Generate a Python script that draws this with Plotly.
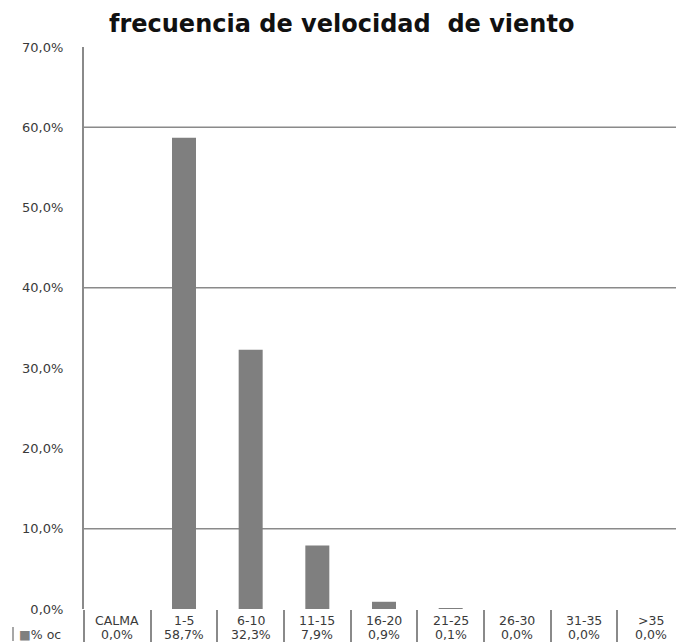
import plotly.graph_objects as go

# ---- data ----
categories = ["CALMA", "1-5", "6-10", "11-15", "16-20", "21-25", "26-30", "31-35", ">35"]
values = [0.0, 58.7, 32.3, 7.9, 0.9, 0.1, 0.0, 0.0, 0.0]
series_name = "% oc"
title_text = "frecuencia de velocidad  de viento"
y_ticks = [0, 10, 20, 30, 40, 50, 60, 70]
grid_at = [10, 40, 60]

W, H = 676, 644
ML, MR, MT, MB = 84, 0, 47, 35
PW = W - ML - MR
PH = H - MT - MB

BAR = "#7f7f7f"
AX = "#8a8a8a"
TXT = "#3a3a3a"
FONT = "DejaVu Sans"

def pct(v):
    return f"{v:.1f}".replace(".", ",") + "%"

fig = go.Figure()
fig.add_trace(go.Bar(x=categories, y=values, name=series_name,
                     marker=dict(color=BAR, line=dict(width=0)),
                     showlegend=False))

annotations = []
for c, v in zip(categories, values):
    annotations.append(dict(x=c, xref="x", y=0, yref="paper", yanchor="top",
                            yshift=-2, text=c, showarrow=False,
                            font=dict(family=FONT, size=12.5, color=TXT)))
    annotations.append(dict(x=c, xref="x", y=0, yref="paper", yanchor="top",
                            yshift=-16, text=pct(v), showarrow=False,
                            font=dict(family=FONT, size=12.5, color=TXT)))

# legend key of the data table
annotations.append(dict(x=(17 - ML) / PW, xref="paper", xanchor="left",
                        y=0, yref="paper", yanchor="top", yshift=-16,
                        text=f'<span style="color:{BAR}">■</span>{series_name}',
                        showarrow=False,
                        font=dict(family=FONT, size=12.5, color=TXT)))

annotations.append(dict(x=0.5, xref="paper", y=(H - 24 - MB) / PH,
                        yref="paper", yanchor="middle",
                        text=f"<b>{title_text}</b>", showarrow=False,
                        xshift=(341 - (ML + PW / 2)),
                        font=dict(family=FONT, size=24, color="#111111")))

shapes = []
for g in grid_at:
    shapes.append(dict(type="line", xref="paper", yref="y", x0=0, x1=1,
                       y0=g, y1=g, layer="below",
                       line=dict(color=AX, width=1.5)))
shapes.append(dict(type="line", xref="paper", yref="paper",
                   x0=(13 - ML) / PW, x1=(13 - ML) / PW,
                   y0=-(627 - (H - MB)) / PH,
                   y1=-(641 - (H - MB)) / PH,
                   line=dict(color=AX, width=1.5)))

fig.update_layout(
    width=W, height=H, autosize=False,
    margin=dict(l=ML, r=MR, t=MT, b=MB),
    paper_bgcolor="white", plot_bgcolor="white",
    separators=",.",
    bargap=0.64,
    showlegend=False,
    font=dict(family=FONT, color=TXT),
    xaxis=dict(type="category", range=[-0.5, 8.38], showgrid=False,
               showline=False, zeroline=False, showticklabels=False,
               ticks="outside", tickson="boundaries", ticklen=32,
               tickwidth=1.5, tickcolor=AX),
    yaxis=dict(range=[0, 70], tickvals=y_ticks,
               ticktext=[pct(t) for t in y_ticks],
               showgrid=False, zeroline=False, showline=True,
               linecolor=AX, linewidth=2, ticks="",
               ticklabelstandoff=16,
               tickfont=dict(family=FONT, size=13, color=TXT)),
    annotations=annotations,
    shapes=shapes,
)

fig.write_html("out.html")
